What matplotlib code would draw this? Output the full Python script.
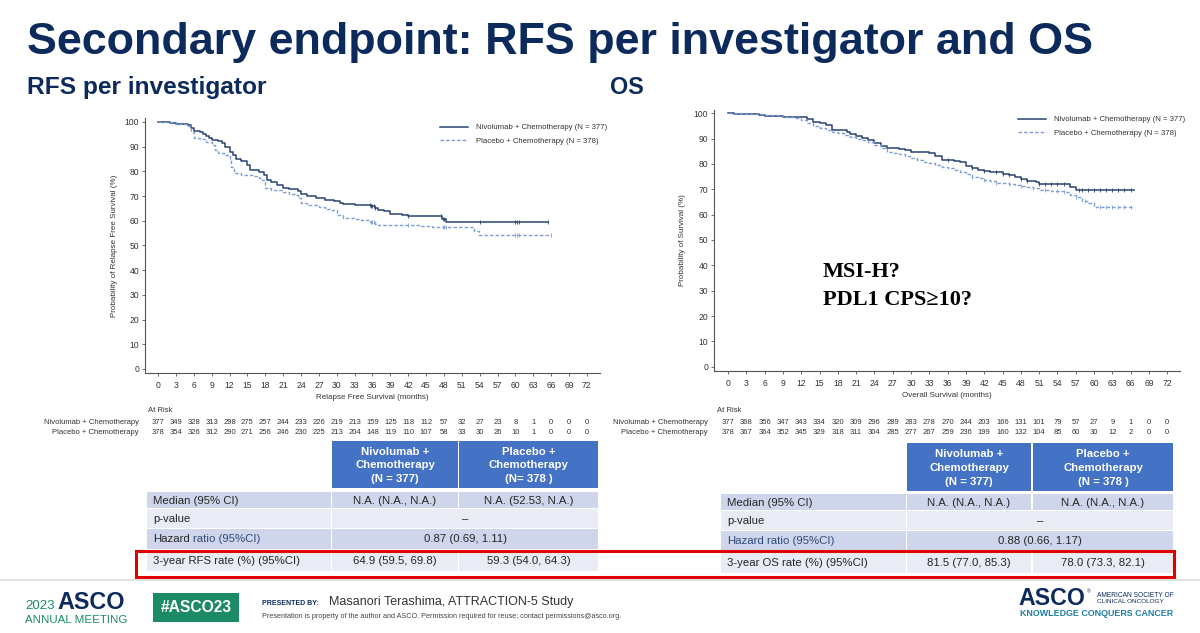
"""
ATTRACTION-5 slide: RFS per investigator and OS (Kaplan-Meier) with tables
"""
import numpy as np
import matplotlib
matplotlib.use("Agg")
from matplotlib import pyplot as plt
from matplotlib import transforms
from matplotlib.patches import Rectangle

# ---- data ----
risk_months = list(range(0, 73, 3))
rfs_nivo_risk = [377, 349, 328, 313, 298, 275, 257, 244, 233, 226, 219, 213, 159, 125, 118, 112, 57, 32, 27, 23, 8, 1, 0, 0, 0]
rfs_pbo_risk = [378, 354, 326, 312, 290, 271, 256, 246, 230, 225, 213, 204, 148, 119, 110, 107, 58, 33, 30, 26, 10, 1, 0, 0, 0]
os_nivo_risk = [377, 368, 356, 347, 343, 334, 320, 309, 296, 289, 283, 278, 270, 244, 203, 166, 131, 101, 79, 57, 27, 9, 1, 0, 0]
os_pbo_risk = [378, 367, 364, 352, 345, 329, 318, 311, 304, 285, 277, 267, 259, 236, 199, 160, 132, 104, 85, 60, 30, 12, 2, 0, 0]

# KM curves (months, %)
rfs_nivo_t = [0, 2, 3, 4, 5, 5.5, 6, 7, 7.5, 8, 8.5, 9, 10, 10.7, 11.3, 12, 12.5, 13, 14, 15, 15.5, 17, 17.7, 18.3, 19, 20, 21, 22,
              23.5, 24, 25, 26.5, 28, 29.5, 30.5, 31, 33, 34.5, 35.8, 36.5, 37, 38, 39, 41, 42, 47, 47.6, 48.3, 65.5]
rfs_nivo_s = [100, 99.6, 99.2, 99, 98.6, 97.5, 96.4, 96, 95, 94.2, 93.5, 92.8, 92.3, 91.5, 90, 88, 86.5, 85, 84.2, 82.5, 80.4, 79.8,
              78.5, 76.5, 75.7, 74.4, 73.4, 72.7, 72, 71, 69.9, 69.4, 68.3, 67.9, 67.3, 66.7, 66.5, 66.2, 66, 65.2, 64.2, 63.8,
              62.9, 62.5, 62, 61.8, 60.9, 59.5, 59.5]
rfs_pbo_t = [0, 3, 5, 5.5, 6, 7, 8, 9, 9.5, 10, 11, 12, 12.3, 12.7, 14, 16, 17, 17.5, 18, 19, 21, 22, 23, 23.5, 24, 25, 27, 28, 29,
             30, 31, 33, 34, 35.5, 36.5, 37, 41, 44, 46, 53, 53.8, 66]
rfs_pbo_s = [100, 99.3, 98.5, 96, 93.7, 93, 91.9, 90.6, 88.8, 87.4, 86.5, 85.2, 81.8, 79.3, 78.5, 78, 77.3, 76.4, 73.3, 72.6, 71.7,
             71, 70.3, 69.4, 67.2, 66.5, 65.6, 64.6, 64.2, 62.2, 61.3, 60.9, 60.2, 59.5, 58.8, 58.4, 58.2, 57.8, 57.5, 55.9,
             54.1, 54.1]
os_nivo_t = [0, 1, 3, 5, 6, 8, 9, 12, 13, 14, 15, 16, 17, 19.5, 20, 21, 22, 23, 24, 25, 26, 28, 29, 30, 32, 33, 34, 35, 37, 38,
             39, 40, 41, 42, 43, 45, 46, 47, 48, 49, 50.5, 51, 56, 57, 66.5]
os_nivo_s = [100, 99.7, 99.6, 99.3, 99.1, 99, 98.7, 98.4, 97.6, 96.7, 96, 95.4, 93.4, 92.5, 91.8, 91, 90.4, 89.5, 88.4, 87.2,
             86.4, 85.9, 85.5, 84.9, 84.6, 84.2, 83.2, 81.6, 81.3, 80.7, 79.2, 78.3, 77.6, 77.2, 76.7, 76.1, 75.7, 75, 74.1,
             73.3, 73, 72, 70.8, 69.7, 69.7]
os_pbo_t = [0, 3, 6, 9, 11, 12, 13, 14, 15, 16, 17, 18, 19, 20, 21, 22, 23, 24, 25, 26, 27, 28, 29, 30, 31, 32, 33, 34, 35, 36,
            37, 38, 39, 40, 41, 42, 43, 44, 46, 47, 48, 49, 50, 51, 53, 55, 56, 57, 58, 59, 60, 66.5]
os_pbo_s = [100, 99.7, 99.3, 98.6, 98.2, 97.5, 96, 95, 94, 93.4, 92.8, 92.1, 91.4, 90.5, 89.7, 89.5, 88.8, 87.5, 86.2, 84.9,
            84.2, 83.8, 83.2, 82.2, 81.6, 80.9, 80.3, 79.6, 78.9, 78.3, 77.6, 77, 76.1, 75, 74.3, 73.7, 73.3, 72.6, 72.1,
            71.7, 71.3, 70.8, 70.4, 69.7, 69.5, 69.1, 67.8, 67.1, 65.4, 64.7, 63.2, 63.2]

# censor marks (months)
rfs_nivo_cens = [35.5, 35.8, 36, 36.2, 36.5, 42, 47.5, 47.8, 48, 54, 60, 60.3, 60.6, 65.5]
rfs_pbo_cens = [35.7, 36, 36.3, 42, 47.8, 48, 48.3, 60, 60.3, 60.6, 66]
os_nivo_cens = [36, 40, 42, 44, 45, 46, 48, 49, 51, 52, 53, 54, 55, 57.5, 58, 59, 60, 61, 62, 63, 64, 65, 66]
os_pbo_cens = [40, 42, 44, 46, 48, 50, 52, 54, 55, 57, 58.5, 61, 62, 63, 64, 65, 66]

arm_labels = ["Nivolumab + Chemotherapy", "Placebo + Chemotherapy"]
legend_labels = ["Nivolumab + Chemotherapy (N = 377)", "Placebo + Chemotherapy (N = 378)"]

rfs_headers = ["Nivolumab +\nChemotherapy\n(N = 377)", "Placebo +\nChemotherapy\n(N= 378 )"]
os_headers = ["Nivolumab +\nChemotherapy\n(N = 377)", "Placebo +\nChemotherapy\n(N = 378 )"]
rfs_rows = ["Median (95% CI)", "p-value", "Hazard ratio (95%CI)", "3-year RFS rate (%) (95%CI)"]
os_rows = ["Median (95% CI)", "p-value", "Hazard ratio (95%CI)", "3-year OS rate (%) (95%CI)"]
rfs_cells = [["N.A. (N.A., N.A.)", "N.A. (52.53, N.A.)"], ["–"], ["0.87 (0.69, 1.11)"],
             ["64.9 (59.5, 69.8)", "59.3 (54.0, 64.3)"]]
os_cells = [["N.A. (N.A., N.A.)", "N.A. (N.A., N.A.)"], ["–"], ["0.88 (0.66, 1.17)"],
            ["81.5 (77.0, 85.3)", "78.0 (73.3, 82.1)"]]

# ---- style ----
NAVY = "#0C2A5C"
NIVO_C = "#2B4472"
PBO_C = "#7E9ED8"
HEAD_C = "#4472C4"
ROW_DARK = "#CFD5EA"
ROW_LIGHT = "#E9EBF5"
TXT_C = "#262626"
GREEN = "#1C8A66"

plt.rcParams["font.family"] = ["Liberation Sans", "DejaVu Sans"]

W, H = 1200, 633
fig = plt.figure(figsize=(12, 6.33), dpi=100)
renderer = fig.canvas.get_renderer()


def fx(px):
    return px / W


def fy(py):
    return 1 - py / H


def txt(px, py, s, **kw):
    return fig.text(fx(px), fy(py), s, **kw)


def fit(px, py, s, width, **kw):
    # scale font size so the text spans `width` pixels
    t = txt(px, py, s, **kw)
    w = t.get_window_extent(renderer).width
    t.set_fontsize(t.get_fontsize() * width / w)
    return t


def box(x0, y0, x1, y1, **kw):
    fig.patches.append(Rectangle((fx(x0), fy(y1)), (x1 - x0) / W, (y1 - y0) / H,
                                 transform=fig.transFigure, **kw))


def text_width(s, **kw):
    t = fig.text(0, 0, s, **kw)
    w = t.get_window_extent(renderer).width
    t.remove()
    return w


def surv_at(t, s, c):
    idx = np.searchsorted(t, c, side="right") - 1
    return np.asarray(s)[idx]


def km_panel(rect, xlim, ylim, curves, ylabel, xlabel, leg_xy, ylabelpad):
    ax = fig.add_axes(rect)
    (tn, sn, cn), (tp, sp, cp) = curves
    ax.step(tn, sn, where="post", color=NIVO_C, lw=1.1, label=legend_labels[0])
    ax.step(tp, sp, where="post", color=PBO_C, lw=1.0, ls=(0, (2.5, 1.5)), label=legend_labels[1])
    ax.plot(cn, surv_at(tn, sn, cn), ls="none", marker="|", ms=3.5, mew=0.6, color=NIVO_C)
    ax.plot(cp, surv_at(tp, sp, cp), ls="none", marker="|", ms=3.5, mew=0.6, color=PBO_C)
    ax.set_xlim(*xlim)
    ax.set_ylim(*ylim)
    ax.set_xticks(risk_months)
    ax.set_yticks(range(0, 101, 10))
    for sp_name in ["top", "right"]:
        ax.spines[sp_name].set_visible(False)
    for sp_name in ["left", "bottom"]:
        ax.spines[sp_name].set_color("#555555")
        ax.spines[sp_name].set_linewidth(0.8)
    ax.tick_params(labelsize=6.2, colors="#555555", labelcolor="#333333", length=2.2, width=0.6)
    ax.tick_params(axis="x", pad=3.2)
    ax.tick_params(axis="y", pad=2)
    ax.set_xlabel(xlabel, fontsize=5.8, color="#333333", labelpad=3)
    ax.set_ylabel(ylabel, fontsize=5.8, color="#333333", labelpad=ylabelpad)
    ax.patch.set_alpha(0)
    ax.legend(loc="upper left", bbox_to_anchor=(fx(leg_xy[0]), fy(leg_xy[1])), bbox_transform=fig.transFigure,
              frameon=False, fontsize=5.6, handlelength=3.6, handletextpad=1.0, labelspacing=0.75,
              borderpad=0, borderaxespad=0, labelcolor="#333333")
    return ax


def at_risk(ax, label_x, risks):
    trans = transforms.blended_transform_factory(ax.transData, fig.transFigure)
    txt(label_x + 9, 411, "At Risk", ha="left", va="center", fontsize=5.5, color="#333333")
    for row_y, lab, vals in zip([422, 432], arm_labels, risks):
        txt(label_x, row_y, lab, ha="right", va="center", fontsize=5.5, color="#333333")
        for m, n in zip(risk_months, vals):
            ax.text(m, fy(row_y), str(n), transform=trans, ha="center", va="center",
                    fontsize=5.5, color="#333333")


def table(xs, head_y, rows_y, headers, rows, cells, split_hr):
    lab0, lab1, c10, c11, c20, c21 = xs
    for (a, b), h in zip([(c10, c11), (c20, c21)], headers):
        box(a, head_y[0], b, head_y[1], color=HEAD_C, lw=0)
        txt((a + b) / 2, (head_y[0] + head_y[1]) / 2 + 1, h, ha="center", va="center", color="white",
            fontweight="bold", fontsize=8.2, linespacing=1.45)
    for i, ((y0, y1), lab, vals) in enumerate(zip(rows_y, rows, cells)):
        col = ROW_DARK if i % 2 == 0 else ROW_LIGHT
        yc = (y0 + y1) / 2 + 0.5
        box(lab0, y0, lab1, y1, color=col, lw=0)
        if lab.startswith("Hazard"):
            first, rest = "Hazard", lab[len("Hazard "):]
            c_first = TXT_C if split_hr else "#2E4A78"
            txt(lab0 + 6, yc, first, ha="left", va="center", fontsize=8.2, color=c_first)
            off = text_width(lab, fontsize=8.2) - text_width(rest, fontsize=8.2)
            txt(lab0 + 6 + off, yc, rest, ha="left", va="center", fontsize=8.2, color="#2E4A78")
        else:
            txt(lab0 + 6, yc, lab, ha="left", va="center", fontsize=8.2, color=TXT_C)
        if len(vals) == 2:
            for (a, b), v in zip([(c10, c11), (c20, c21)], vals):
                box(a, y0, b, y1, color=col, lw=0)
                txt((a + b) / 2, yc, v, ha="center", va="center", fontsize=8.2, color=TXT_C)
        else:
            box(c10, y0, c21, y1, color=col, lw=0)
            txt((c10 + c21) / 2, yc, vals[0], ha="center", va="center", fontsize=8.2, color=TXT_C)


# ---- title ----
fit(27, 54, "Secondary endpoint: RFS per investigator and OS", 1068, fontsize=30,
    fontweight="bold", color=NAVY, va="baseline")
fit(27, 94, "RFS per investigator", 240, fontsize=14, fontweight="bold", color=NAVY, va="baseline")
fit(610, 94, "OS", 34, fontsize=14, fontweight="bold", color=NAVY, va="baseline")

# ---- KM plots ----
ax1 = km_panel([fx(145), fy(373), (600 - 145) / W, (373 - 118) / H], (-2.2, 74.2), (-1.62, 101.6),
               [(rfs_nivo_t, rfs_nivo_s, rfs_nivo_cens), (rfs_pbo_t, rfs_pbo_s, rfs_pbo_cens)],
               "Probability of Relapse Free Survival (%)", "Relapse Free Survival (months)", (440, 124), 5)
ax2 = km_panel([fx(714), fy(371), (1180 - 714) / W, (371 - 110) / H], (-2.3, 74.1), (-1.7, 101.3),
               [(os_nivo_t, os_nivo_s, os_nivo_cens), (os_pbo_t, os_pbo_s, os_pbo_cens)],
               "Probability of Survival (%)", "Overall Survival (months)", (1018, 116), 5.5)

txt(823, 272, "MSI-H?", ha="left", va="center", fontsize=16, fontweight="bold",
    family=["Liberation Serif", "DejaVu Serif"], color="black")
txt(823, 300, "PDL1 CPS≥10?", ha="left", va="center", fontsize=16, fontweight="bold",
    family=["Liberation Serif", "DejaVu Serif"], color="black")

at_risk(ax1, 139, [rfs_nivo_risk, rfs_pbo_risk])
at_risk(ax2, 708, [os_nivo_risk, os_pbo_risk])

# ---- result tables ----
table((147, 331, 332, 458, 459, 598), (441, 488), [(492, 508), (509, 528), (529, 549), (550, 571)],
      rfs_headers, rfs_rows, rfs_cells, True)
table((721, 906, 907, 1031, 1033, 1173), (443, 491), [(494, 510), (511, 530), (531, 551), (552, 573)],
      os_headers, os_rows, os_cells, False)

box(136, 551, 1174, 577, fill=False, edgecolor="#E00000", lw=2.2)
fig.lines.append(plt.Line2D([0, 1], [fy(580), fy(580)], transform=fig.transFigure, color="#E2E2E2", lw=1.5))

# ---- footer ----
fit(25, 609, "2023", 30, fontsize=10, color=GREEN, va="baseline")
fit(57, 609, "ASCO", 68, fontsize=15, fontweight="bold", color=NAVY, va="baseline")
fit(25, 623, "ANNUAL MEETING", 101, fontsize=8, color=GREEN, va="baseline")
box(153, 593, 239, 622, color=GREEN, lw=0)
fit(161, 612, "#ASCO23", 71, fontsize=11, fontweight="bold", color="white", va="baseline")
fit(262, 605, "PRESENTED BY:", 56, fontsize=5.5, fontweight="bold", color=NAVY, va="baseline")
fit(329, 605, "Masanori Terashima, ATTRACTION-5 Study", 245, fontsize=10, color="#333333", va="baseline")
fit(262, 618, "Presentation is property of the author and ASCO. Permission required for reuse; contact permissions@asco.org.",
    368, fontsize=5, color="#444444", va="baseline")

fit(1018, 605, "ASCO", 67, fontsize=15, fontweight="bold", color=NAVY, va="baseline")
txt(1087, 593, "®", fontsize=3.5, color=NAVY, va="baseline")
fit(1097, 597, "AMERICAN SOCIETY OF", 77, fontsize=4.5, color=NAVY, va="baseline")
fit(1097, 603, "CLINICAL ONCOLOGY", 67, fontsize=4.5, color=NAVY, va="baseline")
fit(1020, 616, "KNOWLEDGE CONQUERS CANCER", 153, fontsize=6, fontweight="bold", color="#1F7FA3", va="baseline")

plt.savefig("out.png", dpi=100)
